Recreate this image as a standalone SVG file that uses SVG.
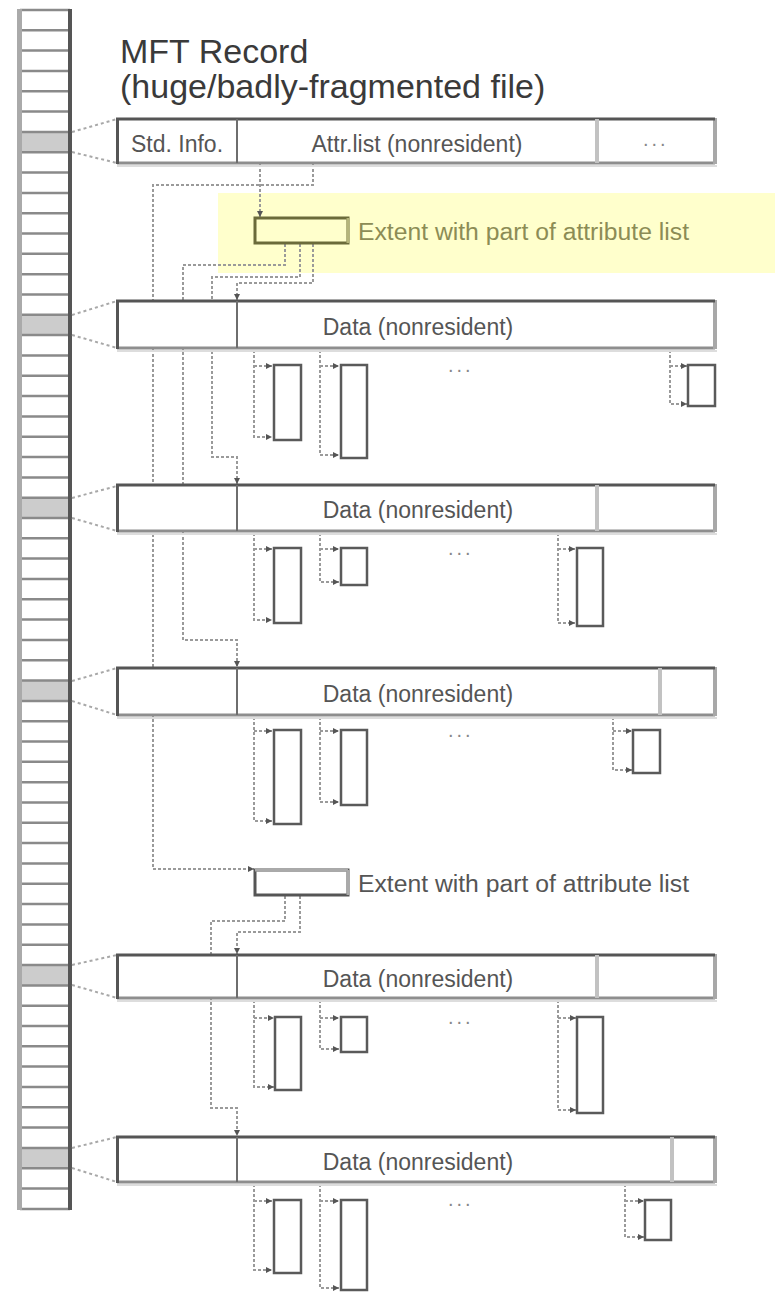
<svg xmlns="http://www.w3.org/2000/svg" width="775" height="1293" viewBox="0 0 775 1293">
<style>
  text { font-family: "Liberation Sans", Arial, sans-serif; }
  .title { font-size: 34px; fill: #3a3a3a; }
  .lbl { font-size: 23px; fill: #555; }
  .lblc { font-size: 23px; fill: #555; text-anchor: middle; }
  .dots { font-size: 20px; fill: #888; letter-spacing: 3px; }
  .ext1lbl { font-size: 23px; fill: #8c8c55; }
  .sep { stroke: #8a8a8a; stroke-width: 2.5; }
  .band { fill: #cccccc; }
  .dot { fill: none; stroke: #9a9a9a; stroke-width: 2; stroke-dasharray: 3 2; }
  .link { fill: none; stroke: #a8a8a8; stroke-width: 2; stroke-dasharray: 3 3; }
  .boxfill { fill: #ffffff; }
  .edgeD { stroke: #555; stroke-width: 3; }
  .edgeL { stroke: #8e8e8e; stroke-width: 3; }
  .edgeR { stroke: #a8a8a8; stroke-width: 4; }
  .shadow { stroke: #dddddd; stroke-width: 2; }
  .div1 { stroke: #6e6e6e; stroke-width: 2; }
  .div2 { stroke: #c2c2c2; stroke-width: 4; }
  .run { fill: #fff; stroke: #5a5a5a; stroke-width: 2.5; }
  .runhi { fill: none; stroke: #a0a0a0; stroke-width: 2; }
</style>
<defs>
  <marker id="ah" markerUnits="userSpaceOnUse" markerWidth="7" markerHeight="7" refX="6" refY="3.5" orient="auto">
    <path d="M0,0.5 L6,3.5 L0,6.5 z" fill="#555"/>
  </marker>
</defs>

<!-- MFT column -->
<g id="mft-column">
  <rect x="19" y="10" width="51" height="1199" fill="#fff"/>
  <rect class="band" x="20" y="132" width="50" height="20.3"/>
  <rect class="band" x="20" y="314.8" width="50" height="20.3"/>
  <rect class="band" x="20" y="497.7" width="50" height="20.3"/>
  <rect class="band" x="20" y="680.6" width="50" height="20.3"/>
  <rect class="band" x="20" y="965" width="50" height="20.3"/>
  <rect class="band" x="20" y="1148" width="50" height="20.3"/>
  <g class="sep">
    <line x1="20" y1="10" x2="70" y2="10"/><line x1="20" y1="30.3" x2="70" y2="30.3"/><line x1="20" y1="50.6" x2="70" y2="50.6"/><line x1="20" y1="71" x2="70" y2="71"/><line x1="20" y1="91.3" x2="70" y2="91.3"/><line x1="20" y1="111.6" x2="70" y2="111.6"/><line x1="20" y1="131.9" x2="70" y2="131.9"/><line x1="20" y1="152.2" x2="70" y2="152.2"/><line x1="20" y1="172.6" x2="70" y2="172.6"/><line x1="20" y1="192.9" x2="70" y2="192.9"/>
    <line x1="20" y1="213.2" x2="70" y2="213.2"/><line x1="20" y1="233.5" x2="70" y2="233.5"/><line x1="20" y1="253.8" x2="70" y2="253.8"/><line x1="20" y1="274.2" x2="70" y2="274.2"/><line x1="20" y1="294.5" x2="70" y2="294.5"/><line x1="20" y1="314.8" x2="70" y2="314.8"/><line x1="20" y1="335.1" x2="70" y2="335.1"/><line x1="20" y1="355.4" x2="70" y2="355.4"/><line x1="20" y1="375.8" x2="70" y2="375.8"/><line x1="20" y1="396.1" x2="70" y2="396.1"/>
    <line x1="20" y1="416.4" x2="70" y2="416.4"/><line x1="20" y1="436.7" x2="70" y2="436.7"/><line x1="20" y1="457" x2="70" y2="457"/><line x1="20" y1="477.4" x2="70" y2="477.4"/><line x1="20" y1="497.7" x2="70" y2="497.7"/><line x1="20" y1="518" x2="70" y2="518"/><line x1="20" y1="538.3" x2="70" y2="538.3"/><line x1="20" y1="558.6" x2="70" y2="558.6"/><line x1="20" y1="579" x2="70" y2="579"/><line x1="20" y1="599.3" x2="70" y2="599.3"/>
    <line x1="20" y1="619.6" x2="70" y2="619.6"/><line x1="20" y1="639.9" x2="70" y2="639.9"/><line x1="20" y1="660.2" x2="70" y2="660.2"/><line x1="20" y1="680.6" x2="70" y2="680.6"/><line x1="20" y1="700.9" x2="70" y2="700.9"/><line x1="20" y1="721.2" x2="70" y2="721.2"/><line x1="20" y1="741.5" x2="70" y2="741.5"/><line x1="20" y1="761.8" x2="70" y2="761.8"/><line x1="20" y1="782.2" x2="70" y2="782.2"/><line x1="20" y1="802.5" x2="70" y2="802.5"/>
    <line x1="20" y1="822.8" x2="70" y2="822.8"/><line x1="20" y1="843.1" x2="70" y2="843.1"/><line x1="20" y1="863.4" x2="70" y2="863.4"/><line x1="20" y1="883.8" x2="70" y2="883.8"/><line x1="20" y1="904.1" x2="70" y2="904.1"/><line x1="20" y1="924.4" x2="70" y2="924.4"/><line x1="20" y1="944.7" x2="70" y2="944.7"/><line x1="20" y1="965" x2="70" y2="965"/><line x1="20" y1="985.4" x2="70" y2="985.4"/><line x1="20" y1="1005.7" x2="70" y2="1005.7"/>
    <line x1="20" y1="1026" x2="70" y2="1026"/><line x1="20" y1="1046.3" x2="70" y2="1046.3"/><line x1="20" y1="1066.6" x2="70" y2="1066.6"/><line x1="20" y1="1087" x2="70" y2="1087"/><line x1="20" y1="1107.3" x2="70" y2="1107.3"/><line x1="20" y1="1127.6" x2="70" y2="1127.6"/><line x1="20" y1="1147.9" x2="70" y2="1147.9"/><line x1="20" y1="1168.2" x2="70" y2="1168.2"/><line x1="20" y1="1188.6" x2="70" y2="1188.6"/><line x1="20" y1="1208.9" x2="70" y2="1208.9"/>
  </g>
  <line x1="19.5" y1="9" x2="19.5" y2="1210" stroke="#aaaaaa" stroke-width="5"/>
  <line x1="70" y1="9" x2="70" y2="1210" stroke="#555" stroke-width="4"/>
</g>

<!-- Title -->
<g id="title">
  <text class="title" x="120" y="63">MFT Record</text>
  <text class="title" x="120" y="98">(huge/badly-fragmented file)</text>
</g>

<!-- Highlight behind extent 1 -->
<rect id="highlight" x="218" y="193" width="557" height="80" fill="#ffffcc"/>

<!-- Connectors -->
<g id="connectors">
  <!-- column to record boxes -->
  <path class="link" d="M72,132 L117,119 M72,152 L117,163"/>
  <path class="link" d="M72,315 L117,301 M72,335 L117,348"/>
  <path class="link" d="M72,498 L117,486 M72,518 L117,531"/>
  <path class="link" d="M72,681 L117,668 M72,701 L117,715"/>
  <path class="link" d="M72,965 L117,955 M72,985 L117,998"/>
  <path class="link" d="M72,1148 L117,1137 M72,1168 L117,1182"/>
  <!-- attribute list pointers -->
  <path class="dot" d="M260,164 V217" marker-end="url(#ah)"/>
  <path class="dot" d="M313,164 V185 H153 V869 H254" marker-end="url(#ah)"/>
  <path class="dot" d="M313,244 V283 H237 V300" marker-end="url(#ah)"/>
  <path class="dot" d="M300,244 V277 H212 V457 H237 V484" marker-end="url(#ah)"/>
  <path class="dot" d="M285,244 V265 H183 V640 H237 V667" marker-end="url(#ah)"/>
  <path class="dot" d="M300,896 V932 H237 V954" marker-end="url(#ah)"/>
  <path class="dot" d="M285,896 V921 H211 V1108 H237 V1136" marker-end="url(#ah)"/>
  <!-- run pointers row 1 -->
  <path class="dot" d="M254,350 V437 H272" marker-end="url(#ah)"/><path class="dot" d="M254,366 H272" marker-end="url(#ah)"/>
  <path class="dot" d="M320,350 V455 H339" marker-end="url(#ah)"/><path class="dot" d="M320,366 H339" marker-end="url(#ah)"/>
  <path class="dot" d="M670,350 V404 H687" marker-end="url(#ah)"/><path class="dot" d="M670,366 H687" marker-end="url(#ah)"/>
  <!-- row 2 -->
  <path class="dot" d="M254,533 V620 H272" marker-end="url(#ah)"/><path class="dot" d="M254,549 H272" marker-end="url(#ah)"/>
  <path class="dot" d="M320,533 V582 H339" marker-end="url(#ah)"/><path class="dot" d="M320,549 H339" marker-end="url(#ah)"/>
  <path class="dot" d="M558,533 V623 H575" marker-end="url(#ah)"/><path class="dot" d="M558,549 H575" marker-end="url(#ah)"/>
  <!-- row 3 -->
  <path class="dot" d="M254,717 V821 H272" marker-end="url(#ah)"/><path class="dot" d="M254,731 H272" marker-end="url(#ah)"/>
  <path class="dot" d="M320,717 V802 H339" marker-end="url(#ah)"/><path class="dot" d="M320,731 H339" marker-end="url(#ah)"/>
  <path class="dot" d="M613,717 V770 H632" marker-end="url(#ah)"/><path class="dot" d="M613,731 H632" marker-end="url(#ah)"/>
  <!-- row 4 -->
  <path class="dot" d="M254,1000 V1087 H274" marker-end="url(#ah)"/><path class="dot" d="M254,1018 H274" marker-end="url(#ah)"/>
  <path class="dot" d="M320,1000 V1049 H339" marker-end="url(#ah)"/><path class="dot" d="M320,1018 H339" marker-end="url(#ah)"/>
  <path class="dot" d="M558,1000 V1110 H576" marker-end="url(#ah)"/><path class="dot" d="M558,1018 H576" marker-end="url(#ah)"/>
  <!-- row 5 -->
  <path class="dot" d="M254,1184 V1270 H272" marker-end="url(#ah)"/><path class="dot" d="M254,1201 H272" marker-end="url(#ah)"/>
  <path class="dot" d="M320,1184 V1288 H339" marker-end="url(#ah)"/><path class="dot" d="M320,1201 H339" marker-end="url(#ah)"/>
  <path class="dot" d="M625,1184 V1237 H644" marker-end="url(#ah)"/><path class="dot" d="M625,1201 H644" marker-end="url(#ah)"/>
</g>

<!-- MFT record -->
<g id="mft-record">
  <rect class="boxfill" x="117" y="119" width="598" height="44"/>
  <line class="shadow" x1="117" y1="166" x2="717" y2="166"/>
  <line class="edgeL" x1="117" y1="163" x2="715" y2="163"/>
  <line class="edgeR" x1="715" y1="118" x2="715" y2="164" stroke="#777"/>
  <line class="edgeD" x1="116" y1="119" x2="715" y2="119"/>
  <line class="edgeD" x1="117.5" y1="118" x2="117.5" y2="164"/>
  <line class="div1" x1="237" y1="119" x2="237" y2="163" stroke="#555"/>
  <line class="div2" x1="597" y1="119" x2="597" y2="163"/>
  <text class="lblc" x="177" y="152">Std. Info.</text>
  <text class="lblc" x="417" y="152" fill="#666">Attr.list (nonresident)</text>
  <text class="dots" x="643" y="146">...</text>
</g>

<!-- Extent 1 -->
<g id="extent-1">
  <rect x="255" y="218" width="93" height="25" fill="#ffffcc" stroke="#6b6b3a" stroke-width="3"/>
  <line x1="348" y1="218" x2="348" y2="243" stroke="#b5b57a" stroke-width="3"/>
  <text class="ext1lbl" x="358" y="240" textLength="331" lengthAdjust="spacingAndGlyphs">Extent with part of attribute list</text>
</g>

<!-- Extent 2 -->
<g id="extent-2">
  <rect x="255" y="870" width="93" height="25" fill="#fff" stroke="#555" stroke-width="3"/>
  <line x1="255" y1="870" x2="348" y2="870" stroke="#aaa" stroke-width="3"/>
  <line x1="348" y1="870" x2="348" y2="895" stroke="#aaa" stroke-width="3"/>
  <text class="lbl" x="358" y="892" textLength="331" lengthAdjust="spacingAndGlyphs">Extent with part of attribute list</text>
</g>

<!-- Data rows -->
<g id="data-1">
  <rect class="boxfill" x="117" y="301" width="598" height="47"/>
  <line class="shadow" x1="117" y1="351" x2="717" y2="351"/>
  <line class="edgeL" x1="117" y1="348" x2="715" y2="348"/>
  <line class="edgeR" x1="715" y1="300" x2="715" y2="349"/>
  <line class="edgeD" x1="116" y1="301" x2="715" y2="301"/>
  <line class="edgeD" x1="117.5" y1="300" x2="117.5" y2="349"/>
  <line class="div1" x1="237" y1="301" x2="237" y2="348"/>
  <text class="lblc" x="418" y="335">Data (nonresident)</text>
  <text class="dots" x="448" y="372">...</text>
  <rect class="run" x="274" y="365" width="27" height="75"/>
  <rect class="run" x="341" y="365" width="26" height="93"/>
  <rect class="run" x="688" y="365" width="27" height="41"/>
</g>
<g id="data-2">
  <rect class="boxfill" x="117" y="485" width="598" height="46"/>
  <line class="shadow" x1="117" y1="534" x2="717" y2="534"/>
  <line class="edgeL" x1="117" y1="531" x2="715" y2="531"/>
  <line class="edgeR" x1="715" y1="484" x2="715" y2="532" stroke="#777"/>
  <line class="edgeD" x1="116" y1="485" x2="715" y2="485"/>
  <line class="edgeD" x1="117.5" y1="484" x2="117.5" y2="532"/>
  <line class="div1" x1="237" y1="485" x2="237" y2="531"/>
  <line class="div2" x1="597" y1="485" x2="597" y2="531"/>
  <text class="lblc" x="418" y="518">Data (nonresident)</text>
  <text class="dots" x="448" y="555">...</text>
  <rect class="run" x="274" y="548" width="27" height="75"/>
  <rect class="run" x="341" y="548" width="26" height="37"/>
  <rect class="run" x="577" y="548" width="26" height="78"/>
</g>
<g id="data-3">
  <rect class="boxfill" x="117" y="668" width="598" height="47"/>
  <line class="shadow" x1="117" y1="718" x2="717" y2="718"/>
  <line class="edgeL" x1="117" y1="715" x2="715" y2="715"/>
  <line class="edgeR" x1="715" y1="667" x2="715" y2="716"/>
  <line class="edgeD" x1="116" y1="668" x2="715" y2="668" stroke="#7a7a7a"/>
  <line class="edgeD" x1="117.5" y1="667" x2="117.5" y2="716"/>
  <line class="div1" x1="237" y1="668" x2="237" y2="715"/>
  <line class="div2" x1="660" y1="668" x2="660" y2="715"/>
  <text class="lblc" x="418" y="702">Data (nonresident)</text>
  <text class="dots" x="448" y="737">...</text>
  <rect class="run" x="274" y="730" width="27" height="94"/>
  <rect class="run" x="341" y="730" width="26" height="75"/>
  <rect class="run" x="633" y="730" width="27" height="43"/>
</g>
<g id="data-4">
  <rect class="boxfill" x="117" y="955" width="598" height="43"/>
  <line class="shadow" x1="117" y1="1001" x2="717" y2="1001"/>
  <line class="edgeL" x1="117" y1="998" x2="715" y2="998" stroke="#555"/>
  <line class="edgeR" x1="715" y1="954" x2="715" y2="999" stroke="#777"/>
  <line class="edgeD" x1="116" y1="955" x2="715" y2="955"/>
  <line class="edgeD" x1="117.5" y1="954" x2="117.5" y2="999"/>
  <line class="div1" x1="237" y1="955" x2="237" y2="998"/>
  <line class="div2" x1="597" y1="955" x2="597" y2="998"/>
  <text class="lblc" x="418" y="987">Data (nonresident)</text>
  <text class="dots" x="448" y="1024">...</text>
  <rect class="run" x="275" y="1017" width="26" height="73"/>
  <rect class="run" x="341" y="1017" width="26" height="35"/>
  <rect class="run" x="577" y="1017" width="26" height="96"/>
</g>
<g id="data-5">
  <rect class="boxfill" x="117" y="1137" width="598" height="45"/>
  <line class="shadow" x1="117" y1="1185" x2="717" y2="1185"/>
  <line class="edgeL" x1="117" y1="1182" x2="715" y2="1182" stroke="#666"/>
  <line class="edgeR" x1="715" y1="1136" x2="715" y2="1183"/>
  <line class="edgeD" x1="116" y1="1137" x2="715" y2="1137"/>
  <line class="edgeD" x1="117.5" y1="1136" x2="117.5" y2="1183"/>
  <line class="div1" x1="237" y1="1137" x2="237" y2="1182"/>
  <line class="div2" x1="672" y1="1137" x2="672" y2="1182"/>
  <text class="lblc" x="418" y="1170">Data (nonresident)</text>
  <text class="dots" x="448" y="1206">...</text>
  <rect class="run" x="274" y="1200" width="27" height="73"/>
  <rect class="run" x="341" y="1200" width="26" height="90"/>
  <rect class="run" x="645" y="1200" width="26" height="40"/>
</g>
</svg>
